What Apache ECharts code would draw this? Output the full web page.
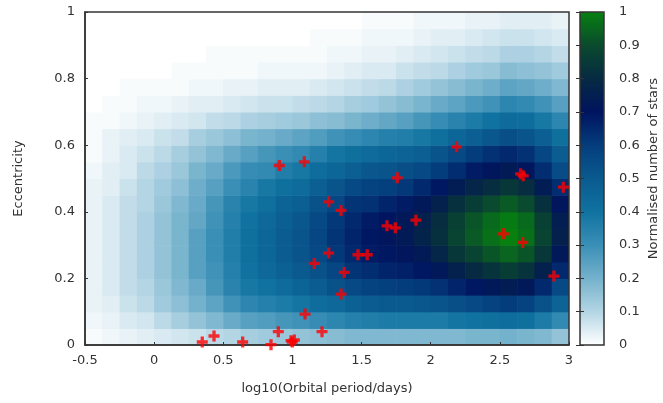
<!DOCTYPE html>
<html>
<head>
<meta charset="utf-8">
<script src="https://cdn.jsdelivr.net/npm/echarts@6/dist/echarts.min.js"></script>
<style>
html, body { margin: 0; padding: 0; background: #fff; }
#main { width: 663px; height: 403px; }
</style>
</head>
<body>
<div id="main"></div>
<script>
// bin centres of the density map (log10 P, eccentricity) and bin widths
var xBins = [-0.4375, -0.3125, -0.1875, -0.0625, 0.0625, 0.1875, 0.3125, 0.4375,
    0.5625, 0.6875, 0.8125, 0.9375, 1.0625, 1.1875, 1.3125, 1.4375, 1.5625,
    1.6875, 1.8125, 1.9375, 2.0625, 2.1875, 2.3125, 2.4375, 2.5625, 2.6875,
    2.8125, 2.9375];
var yBins = [0.025, 0.075, 0.125, 0.175, 0.225, 0.275, 0.325, 0.375, 0.425, 0.475,
    0.525, 0.575, 0.625, 0.675, 0.725, 0.775, 0.825, 0.875, 0.925, 0.975];
var xStep = 0.125, yStep = 0.05;

// normalised number of stars, one row per eccentricity bin (bottom to top)
var density = [
    [.01,.02,.03,.04,.05,.06,.07,.09,.10,.12,.13,.14,.15,.16,.17,.18,.18,.18,.18,.18,.18,.18,.19,.19,.20,.19,.18,.15],
    [.02,.03,.05,.06,.09,.12,.15,.18,.22,.25,.26,.28,.29,.31,.33,.35,.36,.37,.37,.37,.37,.39,.40,.41,.42,.41,.37,.32],
    [.03,.04,.07,.09,.13,.16,.20,.24,.29,.33,.35,.37,.39,.42,.44,.47,.49,.50,.50,.51,.52,.54,.56,.58,.60,.58,.53,.46],
    [.03,.05,.08,.10,.14,.18,.22,.28,.34,.38,.40,.43,.46,.49,.53,.56,.58,.59,.60,.61,.63,.66,.69,.72,.74,.72,.65,.56],
    [.03,.05,.08,.11,.15,.19,.25,.29,.35,.40,.44,.47,.50,.53,.57,.62,.64,.66,.67,.69,.72,.76,.80,.83,.86,.83,.76,.65],
    [.03,.05,.08,.11,.15,.19,.25,.30,.36,.41,.45,.49,.52,.56,.61,.65,.68,.69,.71,.73,.78,.84,.88,.92,.95,.92,.84,.72],
    [.03,.05,.08,.11,.15,.19,.25,.30,.36,.41,.45,.49,.52,.57,.62,.66,.69,.71,.73,.77,.82,.88,.93,.97,1.0,.97,.88,.76],
    [.03,.05,.08,.11,.15,.19,.23,.29,.35,.40,.44,.48,.51,.56,.61,.65,.68,.70,.72,.76,.81,.87,.92,.96,.99,.96,.87,.75],
    [.03,.05,.08,.10,.14,.18,.22,.28,.34,.38,.41,.46,.48,.53,.57,.62,.63,.66,.68,.72,.76,.82,.86,.90,.93,.90,.82,.71],
    [.03,.04,.07,.10,.13,.16,.21,.25,.30,.34,.38,.41,.43,.48,.52,.56,.58,.59,.61,.65,.69,.74,.78,.81,.84,.81,.74,.64],
    [.02,.04,.05,.09,.11,.14,.19,.22,.27,.31,.32,.36,.38,.42,.45,.48,.51,.52,.54,.56,.60,.64,.68,.71,.73,.71,.64,.55],
    [.01,.03,.05,.07,.09,.12,.15,.18,.22,.25,.28,.30,.32,.35,.39,.41,.43,.45,.46,.48,.52,.56,.60,.63,.65,.63,.57,.49],
    [.01,.03,.04,.05,.07,.08,.12,.14,.16,.19,.20,.22,.24,.26,.29,.31,.33,.35,.36,.38,.41,.45,.48,.51,.54,.52,.48,.41],
    [.01,.01,.02,.03,.04,.05,.06,.08,.09,.11,.12,.13,.14,.16,.17,.19,.21,.23,.25,.28,.31,.34,.37,.40,.43,.42,.38,.33],
    [0,.01,.01,.02,.02,.03,.04,.04,.05,.06,.07,.07,.08,.09,.10,.12,.13,.15,.17,.19,.22,.24,.27,.29,.33,.32,.29,.25],
    [0,0,.01,.01,.01,.01,.02,.02,.03,.03,.04,.04,.04,.05,.06,.07,.08,.09,.11,.13,.15,.17,.19,.21,.24,.23,.21,.18],
    [0,0,0,0,0,.01,.01,.01,.01,.01,.02,.02,.02,.02,.03,.04,.05,.05,.07,.08,.09,.11,.13,.14,.17,.16,.15,.13],
    [0,0,0,0,0,0,0,.01,.01,.01,.01,.01,.01,.01,.02,.02,.03,.03,.04,.05,.06,.07,.08,.09,.11,.11,.10,.08],
    [0,0,0,0,0,0,0,0,0,0,0,0,0,.01,.01,.01,.02,.02,.02,.03,.04,.04,.05,.06,.07,.07,.06,.05],
    [0,0,0,0,0,0,0,0,0,0,0,0,0,0,0,0,.01,.01,.01,.02,.02,.02,.03,.03,.04,.04,.04,.03]
];

// observed systems
var logPeriod = [0.905, 1.086, 2.187, 1.758, 2.650, 2.669, 2.959, 1.262, 1.351, 1.684, 1.744,
    1.893, 2.525, 2.665, 1.262, 1.474, 1.541, 1.158, 1.375, 1.351, 2.891, 1.091, 0.898,
    1.214, 0.433, 0.348, 0.640, 0.845, 0.999, 1.014, 0.990];
var eccentricity = [0.539, 0.550, 0.595, 0.502, 0.514, 0.508, 0.474, 0.430, 0.404, 0.358, 0.352,
    0.375, 0.334, 0.308, 0.276, 0.271, 0.271, 0.245, 0.218, 0.153, 0.207, 0.093, 0.040,
    0.040, 0.027, 0.009, 0.009, 0.001, 0.009, 0.015, 0.013];

var palette = ['#ffffff', '#b3d5e4', '#74b1cc', '#3a8fb6', '#1072a0', '#0a5a8f',
    '#043d7c', '#00145f', '#062a42', '#0a4a2e', '#078010'];

var cells = [];
density.forEach(function (row, j) {
    row.forEach(function (v, i) { cells.push([xBins[i], yBins[j], v]); });
});
var points = logPeriod.map(function (p, i) { return [p, eccentricity[i]]; });

var font = 'DejaVu Sans';

function renderCell(params, api) {
    var topLeft = api.coord([api.value(0) - xStep / 2, api.value(1) + yStep / 2]);
    var size = api.size([xStep, yStep]);
    return {
        type: 'rect',
        shape: { x: topLeft[0], y: topLeft[1], width: size[0] + 0.6, height: size[1] + 0.6 },
        style: { fill: api.visual('color') }
    };
}

echarts.init(document.getElementById('main')).setOption({
    animation: false,
    grid: [
        { left: 85, top: 12, width: 484, height: 333, show: true, borderColor: '#333', borderWidth: 1.5, backgroundColor: 'transparent', z: 10 },
        { left: 580, top: 12, width: 24, height: 333, show: true, borderColor: '#333', borderWidth: 1.5, backgroundColor: 'transparent', z: 10 }
    ],
    visualMap: {
        type: 'continuous',
        seriesIndex: 0,
        dimension: 2,
        min: 0,
        max: 1,
        calculable: false,
        hoverLink: false,
        orient: 'vertical',
        left: 580,
        top: 12,
        padding: 0,
        itemWidth: 24,
        itemHeight: 333,
        text: null,
        inRange: { color: palette },
        z: -1
    },
    xAxis: [
        {
            type: 'value', gridIndex: 0, min: -0.5, max: 3, interval: 0.5,
            name: 'log10(Orbital period/days)', nameLocation: 'middle', nameGap: 37,
            nameTextStyle: { color: '#333', fontSize: 13, fontFamily: font },
            axisLine: { show: true, onZero: false, lineStyle: { color: '#333', width: 1.5 } },
            axisTick: { inside: true, length: 3, lineStyle: { color: '#333' } },
            axisLabel: { margin: 9, color: '#333', fontSize: 13, fontFamily: font },
            splitLine: { show: false }, z: 10
        },
        { type: 'value', gridIndex: 1, min: 0, max: 1, show: false }
    ],
    yAxis: [
        {
            type: 'value', gridIndex: 0, min: 0, max: 1, interval: 0.2,
            name: 'Eccentricity', nameLocation: 'middle', nameGap: 60,
            nameTextStyle: { color: '#333', fontSize: 13, fontFamily: font },
            axisLine: { show: true, onZero: false, lineStyle: { color: '#333', width: 1.5 } },
            axisTick: { inside: true, length: 3, lineStyle: { color: '#333' } },
            axisLabel: { margin: 10, color: '#333', fontSize: 13, fontFamily: font },
            splitLine: { show: false }, z: 10
        },
        {
            type: 'value', gridIndex: 1, min: 0, max: 1, interval: 0.1, position: 'right',
            name: 'Normalised number of stars', nameLocation: 'middle', nameGap: 43,
            nameTextStyle: { color: '#333', fontSize: 13, fontFamily: font, padding: [0, 0, 0, 20] },
            axisLine: { show: false },
            axisTick: { inside: true, length: 4, lineStyle: { color: '#333' } },
            axisLabel: { margin: 15, color: '#333', fontSize: 13, fontFamily: font },
            splitLine: { show: false }, z: 10
        },
        {
            type: 'value', gridIndex: 1, min: 0, max: 1, interval: 0.1, position: 'left',
            axisLine: { show: false },
            axisTick: { inside: true, length: 4, lineStyle: { color: '#333' } },
            axisLabel: { show: false },
            splitLine: { show: false }, z: 10
        }
    ],
    series: [
        {
            type: 'custom',
            xAxisIndex: 0,
            yAxisIndex: 0,
            data: cells,
            renderItem: renderCell,
            clip: true,
            silent: true,
            z: -1
        },
        {
            type: 'scatter',
            xAxisIndex: 0,
            yAxisIndex: 0,
            data: points,
            symbol: 'path://M3.5,0H6.5V3.5H10V6.5H6.5V10H3.5V6.5H0V3.5H3.5Z',
            symbolSize: 11,
            itemStyle: { color: '#f00' },
            z: 20
        }
    ]
});
</script>
</body>
</html>
